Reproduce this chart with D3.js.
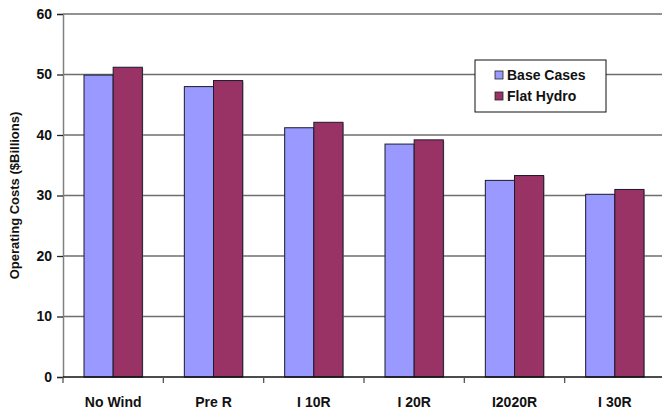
<!DOCTYPE html>
<html>
<head>
<meta charset="utf-8">
<script src="https://cdn.jsdelivr.net/npm/d3@7"></script>
<style>
  html, body { margin: 0; padding: 0; background: #fff; }
  svg { display: block; font-family: Arial, "Liberation Sans", sans-serif; }
</style>
</head>
<body>
<svg id="chart" width="662" height="412"></svg>
<script>
// Operating costs by wind scenario, in $ billions
const categories = ["No Wind", "Pre R", "I 10R", "I 20R", "I2020R", "I 30R"];
const seriesNames = ["Base Cases", "Flat Hydro"];
const baseCases = [49.9, 48.0, 41.2, 38.5, 32.5, 30.2];
const flatHydro = [51.2, 49.0, 42.1, 39.2, 33.3, 31.0];
const yTicks = [0, 10, 20, 30, 40, 50, 60];
const colors = ["#9999FF", "#993366"];

const svg = d3.select("#chart");
const margin = { left: 63, top: 14, right: -3, bottom: 35 };
const W = 662, H = 412;

const x = d3.scaleBand().domain(categories)
  .range([margin.left, W - margin.right]).paddingInner(0).paddingOuter(0);
const x1 = d3.scaleBand().domain(seriesNames)
  .range([0, x.bandwidth()]).paddingInner(0).paddingOuter(0.72);
const y = d3.scaleLinear().domain([0, 60]).range([H - margin.bottom, margin.top]);

// horizontal gridlines
svg.append("g").selectAll("line").data(yTicks.filter(d => d > 0)).join("line")
  .attr("x1", margin.left).attr("x2", W)
  .attr("y1", d => y(d)).attr("y2", d => y(d))
  .attr("stroke", "#6e6e6e").attr("stroke-width", 1.4);

// y axis
const yAxis = svg.append("g").attr("transform", `translate(${margin.left},0)`)
  .call(d3.axisLeft(y).tickValues(yTicks).tickSize(6).tickPadding(5));
yAxis.select(".domain").attr("stroke", "#808080").attr("stroke-width", 1.5);
yAxis.selectAll(".tick line").attr("stroke", "#222").attr("stroke-width", 1.3);
yAxis.selectAll(".tick text").attr("font-size", 14).attr("font-weight", "bold")
  .attr("fill", "#111").attr("font-family", "Arial, 'Liberation Sans', sans-serif");

// bars
const series = [baseCases, flatHydro];
const groups = svg.append("g").selectAll("g").data(categories).join("g")
  .attr("transform", d => `translate(${x(d)},0)`);

groups.each(function (cat, i) {
  const g = d3.select(this);
  seriesNames.forEach((s, k) => {
    const v = series[k][i];
    // soft shadow
    g.append("rect")
      .attr("x", x1(s) + 1).attr("y", y(v) + 1)
      .attr("width", x1.bandwidth()).attr("height", y(0) - y(v))
      .attr("fill", "#9a9a9a").attr("opacity", 0.6);
    g.append("rect")
      .attr("x", x1(s)).attr("y", y(v))
      .attr("width", x1.bandwidth()).attr("height", y(0) - y(v))
      .attr("fill", colors[k]).attr("stroke", "#1a1a2a").attr("stroke-width", 1);
  });
});

// x axis
const xAxis = svg.append("g").attr("transform", `translate(0,${y(0)})`)
  .call(d3.axisBottom(x).tickSize(0).tickPadding(20));
xAxis.select(".domain").remove();
svg.append("line").attr("x1", margin.left).attr("x2", W)
  .attr("y1", y(0)).attr("y2", y(0)).attr("stroke", "#111").attr("stroke-width", 1.5);
svg.append("g").selectAll("line").data(categories).join("line")
  .attr("x1", d => x(d)).attr("x2", d => x(d))
  .attr("y1", y(0)).attr("y2", y(0) + 6)
  .attr("stroke", "#555").attr("stroke-width", 1.3);
xAxis.selectAll(".tick text").attr("font-size", 14).attr("font-weight", "bold")
  .attr("fill", "#111").attr("font-family", "Arial, 'Liberation Sans', sans-serif");

// y axis title
svg.append("text")
  .attr("transform", `translate(19,${(y(0) + y(60)) / 2}) rotate(-90)`)
  .attr("text-anchor", "middle")
  .attr("font-size", 13).attr("font-weight", "bold").attr("fill", "#111")
  .text("Operating Costs ($Billions)");

// legend
const legend = svg.append("g").attr("transform", "translate(475,60)");
legend.append("rect").attr("x", 0).attr("y", 0).attr("width", 131).attr("height", 52)
  .attr("fill", "#fff").attr("stroke", "#111").attr("stroke-width", 1);
seriesNames.forEach((s, k) => {
  const yy = 15 + k * 21;
  legend.append("rect").attr("x", 20).attr("y", yy - 4).attr("width", 8).attr("height", 8)
    .attr("fill", colors[k]).attr("stroke", "#222").attr("stroke-width", 0.8);
  legend.append("text").attr("x", 32).attr("y", yy + 5)
    .attr("font-size", 14).attr("font-weight", "bold").attr("fill", "#111").text(s);
});
</script>
</body>
</html>
